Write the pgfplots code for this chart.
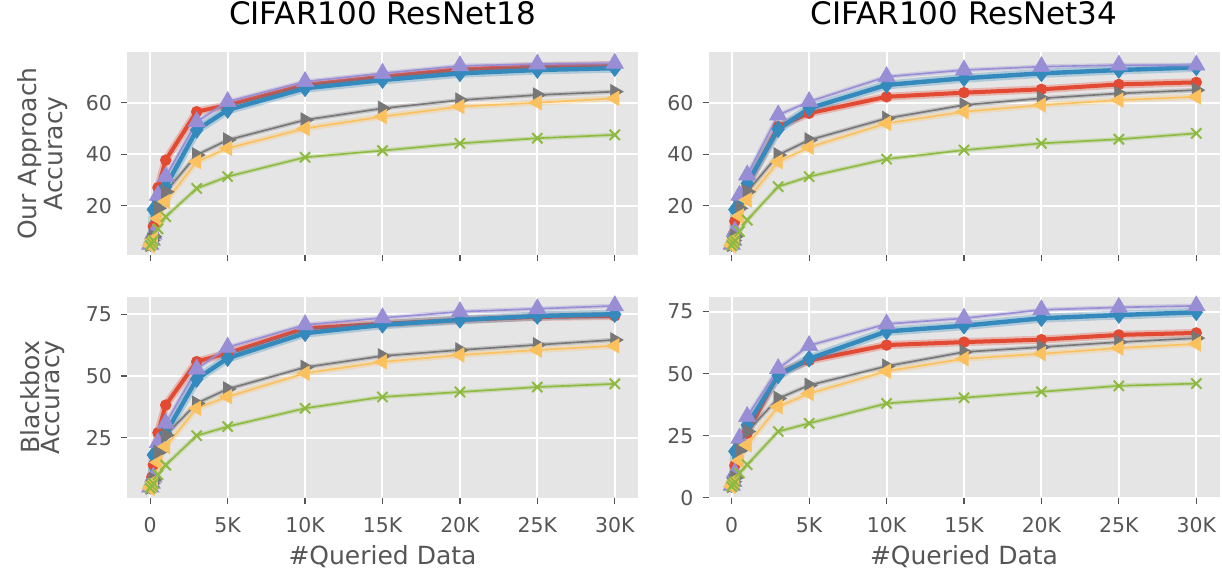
\documentclass[border=0pt]{standalone}
\usepackage{fontspec}
\setmainfont{DejaVu Sans}
\usepackage{pgfplots}
\usepackage{pgfplotstable}
\pgfplotsset{compat=1.18}

\definecolor{cred}{HTML}{E24A33}
\definecolor{cblue}{HTML}{348ABD}
\definecolor{cpurple}{HTML}{988ED5}
\definecolor{cgray}{HTML}{777777}
\definecolor{cyellow}{HTML}{FBC15E}
\definecolor{cgreen}{HTML}{8EBA42}
\definecolor{bg}{HTML}{E5E5E5}
\definecolor{tk}{HTML}{555555}

\pgfplotstableread{
x red blue purple gray yellow green
0 5.0 5.5 5.0 5.0 4.5 4.5
100 8 7 6.5 6.5 5.5 5.5
200 12 18.5 9 8 7 6.5
500 27 22 24 19 15 11
1000 37.7 27.4 31.3 25.4 21.6 15.7
3000 56.5 49.4 52.6 39.7 37.1 26.7
5000 59.1 57.2 60.4 45.5 42.3 31.3
10000 66.9 65.6 68.2 53.3 50.0 38.8
15000 70.1 68.8 71.4 57.8 54.6 41.4
20000 73.0 71.4 74.3 61.0 58.5 44.2
25000 74.0 72.7 75.0 63.0 60.0 46.2
30000 74.6 73.4 75.3 64.3 61.7 47.5
}\tTL

\pgfplotstableread{
x red blue purple gray yellow green
0 5.0 5.5 5.0 5.0 4.5 4.5
100 9 7 6.5 6.5 5.5 5.5
200 14 18.5 10 8 7 6.5
500 22 22 24 19 16 10
1000 28 28.7 31.9 25.4 22.2 14.4
3000 50.7 49.7 55.2 39.7 37.1 27.4
5000 55.9 57.8 60.4 45.5 42.7 31.3
10000 62.3 66.9 70.1 53.9 52.0 38.1
15000 63.9 69.5 72.7 59.1 56.5 41.6
20000 65.2 71.4 74.0 61.7 59.1 44.2
25000 67.1 72.7 74.6 63.6 61.0 45.8
30000 67.9 73.7 74.6 64.9 62.3 48.1
}\tTR

\pgfplotstableread{
x red blue purple gray yellow green
0 5.0 5.5 5.0 5.0 4.5 4.5
100 9 7 6.5 6.5 5.5 5.5
200 14 18 9 8 7 6.5
500 27 22 23 19 15 10
1000 38.2 26.8 30.8 26.0 21.4 13.9
3000 55.8 48.7 52.8 38.9 36.9 25.8
5000 59.2 57.2 61.6 44.7 41.6 29.5
10000 69.3 67.3 70.7 53.5 51.1 36.9
15000 71.1 70.7 73.5 58.1 55.7 41.5
20000 72.7 72.7 76.0 60.5 58.5 43.5
25000 73.9 74.3 77.2 62.6 60.5 45.5
30000 74.3 75.0 78.4 64.6 62.2 46.8
}\tBL

\pgfplotstableread{
x red blue purple gray yellow green
0 5.0 5.5 5.0 5.0 4.5 4.5
100 8 7 6.5 6.5 5.5 5.5
200 13 18.7 10 8 7 6.5
500 22 22 24 19 15 10
1000 26 29.3 32.7 26.7 21.3 13.3
3000 50.0 49.3 52.0 40.0 36.7 26.7
5000 55.3 56.0 61.3 45.3 42.0 30.0
10000 61.5 67.0 70.0 53.0 51.0 38.0
15000 62.7 69.3 72.3 58.7 56.0 40.3
20000 63.7 72.3 75.7 60.7 58.0 42.7
25000 65.6 73.6 76.7 62.7 60.3 45.1
30000 66.4 74.7 77.3 64.3 62.0 46.0
}\tBR

\pgfplotsset{
  ggstyle/.style={
    scale only axis,
    width=255.5pt,
    xmin=-1500, xmax=31500,
    axis background/.style={fill=bg},
    axis line style={draw=none},
    grid=major,
    major grid style={white, line width=1pt},
    tick align=outside,
    major tick length=3pt,
    tick style={tk, line width=0.6pt},
    xtick pos=left, ytick pos=left,
    scaled x ticks=false, scaled y ticks=false,
    xtick={0,5000,10000,15000,20000,25000,30000},
    xticklabels={0,5K,10K,15K,20K,25K,30K},
    tick label style={font=\fontsize{10.2}{12}\selectfont, text=tk},
    /pgf/number format/assume math mode=true,
    xticklabel style={yshift=-3pt},
    yticklabel style={xshift=-1pt},
    label style={font=\fontsize{12.5}{9.6}\selectfont, text=tk},
    ylabel style={at={(axis description cs:-0.165,0.5)}, anchor=center, align=center},
    xlabel style={at={(axis description cs:0.5,0)}, anchor=base, yshift=-33pt},
    title style={font=\fontsize{15.5}{18}\selectfont, at={(axis description cs:0.5,1)}, anchor=south, yshift=4pt},
  },
  halo/.style={forget plot, no markers, opacity=0.3},
  sred/.style={cred, line width=2pt, mark=*, mark size=1.8pt, mark options={fill=cred, draw=cred}},
  sblue/.style={cblue, line width=2.2pt, mark=diamond*, mark size=4.2pt, mark options={fill=cblue, draw=cblue, line width=0.3pt}},
  spurple/.style={cpurple, line width=0.8pt, mark=triangle*, mark size=5pt, mark options={fill=cpurple, draw=cpurple, line width=0.3pt}},
  sgray/.style={cgray, line width=0.8pt, mark=triangle*, mark size=4.2pt, mark options={fill=cgray, draw=cgray, rotate=-90, line width=0.3pt}},
  syellow/.style={cyellow, line width=0.8pt, mark=triangle*, mark size=4.2pt, mark options={fill=cyellow, draw=cyellow, rotate=90, line width=0.3pt}},
  sgreen/.style={cgreen, line width=0.8pt, mark=x, mark size=3.6pt, mark options={draw=cgreen, line width=1pt}},
}

\newcommand{\sixplots}[1]{%
  \addplot[halo, cred, line width=4pt] table[x=x,y=red]{#1};
  \addplot[sred] table[x=x,y=red]{#1};
  \addplot[halo, cblue, line width=4.5pt] table[x=x,y=blue]{#1};
  \addplot[sblue] table[x=x,y=blue]{#1};
  \addplot[halo, cpurple, line width=2.2pt] table[x=x,y=purple]{#1};
  \addplot[spurple] table[x=x,y=purple]{#1};
  \addplot[halo, cgray, line width=2.2pt] table[x=x,y=gray]{#1};
  \addplot[sgray] table[x=x,y=gray]{#1};
  \addplot[halo, cyellow, line width=3pt] table[x=x,y=yellow]{#1};
  \addplot[syellow] table[x=x,y=yellow]{#1};
  \addplot[halo, cgreen, line width=2.2pt] table[x=x,y=green]{#1};
  \addplot[sgreen] table[x=x,y=green]{#1};
}

\begin{document}
\begin{tikzpicture}
\useasboundingbox (0,0) rectangle (611pt,285.5pt);

% top left
\begin{axis}[ggstyle, at={(63.5pt,158pt)}, anchor=south west, height=101.5pt,
  ymin=0.85, ymax=79.7, ytick={20,40,60}, xticklabels={},
  title={CIFAR100 ResNet18},
  ylabel={Our Approach\\Accuracy}]
\sixplots{\tTL}
\end{axis}

% top right
\begin{axis}[ggstyle, at={(354.25pt,158pt)}, anchor=south west, height=101.5pt,
  ymin=0.85, ymax=79.7, ytick={20,40,60}, xticklabels={},
  title={CIFAR100 ResNet34}]
\sixplots{\tTR}
\end{axis}

% bottom left
\begin{axis}[ggstyle, at={(63.5pt,36.35pt)}, anchor=south west, height=100.8pt,
  ymin=0.45, ymax=82.1, ytick={25,50,75},
  xlabel={\#Queried Data},
  ylabel={Blackbox\\Accuracy}]
\sixplots{\tBL}
\end{axis}

% bottom right
\begin{axis}[ggstyle, at={(354.25pt,36.35pt)}, anchor=south west, height=100.8pt,
  ymin=-0.2, ymax=81, ytick={0,25,50,75},
  xlabel={\#Queried Data}]
\sixplots{\tBR}
\end{axis}
\end{tikzpicture}
\end{document}
